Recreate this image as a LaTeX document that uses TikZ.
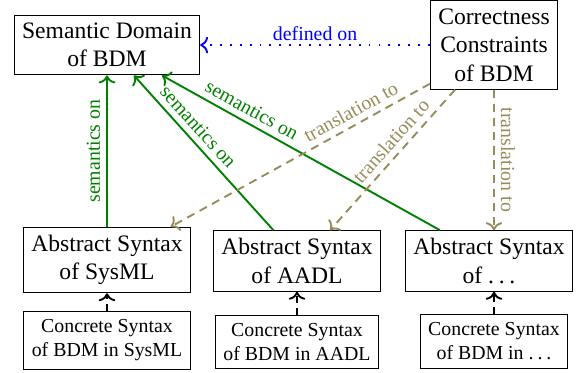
\documentclass[tikz,border=0pt]{standalone}
\usepackage{fontspec}
\setmainfont{Liberation Serif}
\usepackage{tikz}
\usetikzlibrary{arrows.meta}
\usetikzlibrary{positioning}
\usepackage{xcolor}

\definecolor{semgreen}{RGB}{0,128,0}
\definecolor{transolive}{RGB}{150,140,90}

\newcommand{\spaceddots}{.\kern0.2em.\kern0.2em.}

\tikzset{
	box/.style={draw, align=center, font=\fontsize{10}{12}\selectfont},
	smallbox/.style={draw, align=center, font=\fontsize{8.4}{10.5}\selectfont},
	lbl/.style={font=\fontsize{8.4}{10}\selectfont, inner sep=2.5pt},
	semantics/.style={->, thick, semgreen},
	translation/.style={->, thick, transolive, dash pattern=on 3.5pt off 2.5pt},
	definedon/.style={->, thick, blue, dash pattern=on 0.8pt off 3.4pt},
	refines/.style={->, thick, dash pattern=on 3pt off 2pt},
}

\begin{document}
\begin{tikzpicture}[x=0.01489cm, y=-0.01489cm]
	\useasboundingbox (0,0) rectangle (582,372);
	\node[box] (semDomain) at (107,45) {Semantic Domain\\of BDM};
	\node[box] (constraints) at (494,45) {Correctness\\Constraints\\of BDM};
	
	\node[box] (absSysML) at (107,260) {Abstract Syntax\\of SysML};
	\node[box] (absAADL) at (297,261) {Abstract Syntax\\of AADL};
	\node[box] (absOther) at (489,261) {Abstract Syntax\\of \spaceddots};
	
	\node[smallbox] (conSysML) at (107,340) {Concrete Syntax\\of BDM in SysML};
	\node[smallbox] (conAADL) at (297,342) {Concrete Syntax\\of BDM in AADL};
	\node[smallbox] (conOther) at (494,341) {Concrete Syntax\\of BDM in \spaceddots};
	
	\draw[refines] (conSysML) -- (absSysML);
	\draw[refines] (conAADL) -- (absAADL);
	\draw[refines] (conOther.north) -- (conOther.north |- absOther.south);
	
	% semantics of each abstract syntax
	\draw[semantics] (absSysML) -- node[lbl, sloped, above, pos=.5] {semantics on} (semDomain);
	\draw[semantics] ([xshift=-10pt]absAADL.north) -- node[lbl, sloped, above, pos=.61] {semantics on} ([xshift=11.4pt]semDomain.south);
	\draw[semantics] ([xshift=-20.8pt]absOther.north) -- node[lbl, sloped, above, pos=.7] {semantics on} ([xshift=23.3pt]semDomain.south);
	
	% constraints
	\draw[definedon] (constraints.west) -- node[lbl, above, blue, pos=.5, inner sep=1.5pt] {defined on} (semDomain.east);
	\draw[translation] ([yshift=2.5pt]constraints.south west) -- node[lbl, sloped, above, pos=.28] {translation to} ([xshift=27pt]absSysML.north);
	\draw[translation] ([xshift=-16.5pt]constraints.south) -- node[lbl, sloped, above, pos=.43] {translation to} ([xshift=14pt]absAADL.north);
	\draw[translation] (constraints.south) -- node[lbl, sloped, above, pos=.5] {translation to} (constraints.south |- absOther.north);
\end{tikzpicture}
\end{document}
